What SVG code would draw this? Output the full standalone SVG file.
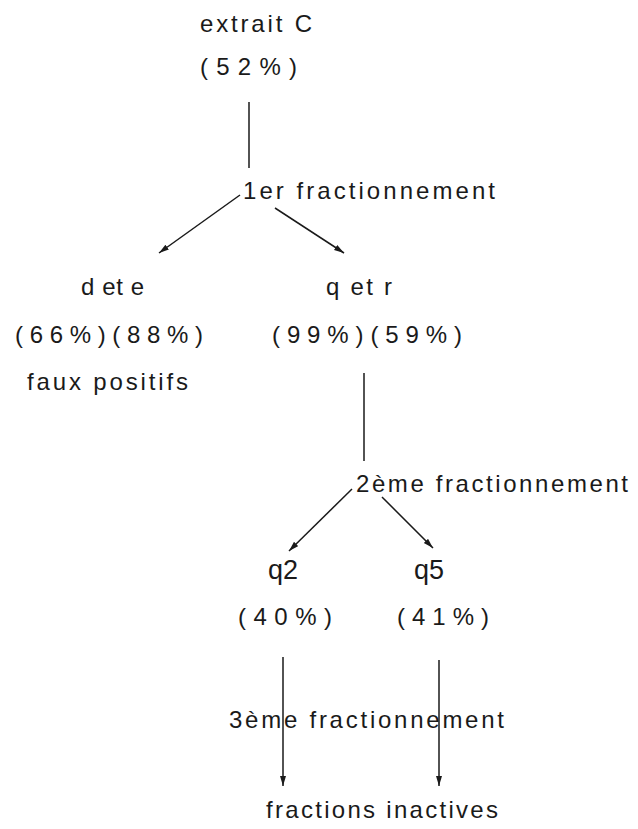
<svg xmlns="http://www.w3.org/2000/svg" width="638" height="829" viewBox="0 0 638 829">
<style>
text{font-family:"Liberation Sans",Arial,sans-serif;font-size:24px;fill:#1a1a1a}
.c{stroke:#1a1a1a;stroke-width:1.5;fill:none}
.q{font-size:27px}
</style>
<defs>
<marker id="ah" markerUnits="userSpaceOnUse" markerWidth="12" markerHeight="8" refX="10" refY="3" orient="auto">
<path d="M0,0 L10,3 L0,6 Z" fill="#1a1a1a"/>
</marker>
</defs>
<rect width="638" height="829" fill="#fff"/>
<g id="connectors">
<line class="c" x1="249" y1="102" x2="249" y2="168"/>
<line class="c" x1="240" y1="195" x2="159" y2="253" marker-end="url(#ah)"/>
<line class="c" x1="275" y1="208" x2="344" y2="253" marker-end="url(#ah)"/>
<line class="c" x1="364" y1="373" x2="364" y2="461"/>
<line class="c" x1="352" y1="489" x2="289" y2="551" marker-end="url(#ah)"/>
<line class="c" x1="382" y1="497" x2="433" y2="548" marker-end="url(#ah)"/>
<line class="c" x1="283" y1="657" x2="283" y2="786" marker-end="url(#ah)"/>
<line class="c" x1="439" y1="660" x2="439" y2="786" marker-end="url(#ah)"/>
</g>
<g id="extrait">
<text x="200" y="32" textLength="112" lengthAdjust="spacing">extrait C</text>
<text x="200" y="75" textLength="97" lengthAdjust="spacing">(52%)</text>
</g>
<g id="frac1"><text x="243" y="199" textLength="252" lengthAdjust="spacing">1er fractionnement</text></g>
<g id="dete">
<text x="81" y="295" textLength="63" lengthAdjust="spacing">d et e</text>
<text x="15" y="343" textLength="188" lengthAdjust="spacing">(66%)(88%)</text>
<text x="27" y="390" textLength="161" lengthAdjust="spacing">faux positifs</text>
</g>
<g id="qetr">
<text x="326" y="295" textLength="66" lengthAdjust="spacing">q et r</text>
<text x="272" y="343" textLength="190" lengthAdjust="spacing">(99%)(59%)</text>
</g>
<g id="frac2"><text x="356" y="492" textLength="272" lengthAdjust="spacing">2ème fractionnement</text></g>
<g id="q2">
<text class="q" x="268" y="579">q2</text>
<text x="238" y="625" textLength="94" lengthAdjust="spacing">(40%)</text>
</g>
<g id="q5">
<text class="q" x="414" y="579">q5</text>
<text x="397" y="625" textLength="92" lengthAdjust="spacing">(41%)</text>
</g>
<g id="frac3"><text x="229" y="728" textLength="275" lengthAdjust="spacing">3ème fractionnement</text></g>
<g id="inactives"><text x="266" y="818" textLength="232" lengthAdjust="spacing">fractions inactives</text></g>
</svg>
